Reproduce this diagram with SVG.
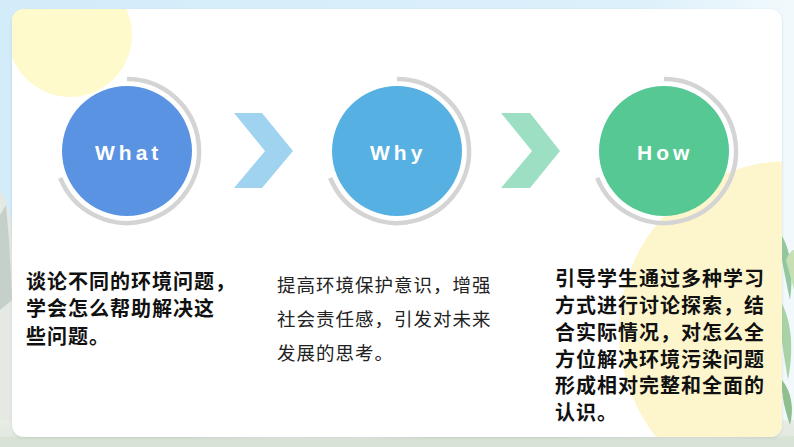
<svg xmlns="http://www.w3.org/2000/svg" width="794" height="447" viewBox="0 0 794 447">
  <defs>
    <style>
      .lbl { font-family: "Liberation Sans", Arial, sans-serif; font-weight: 700; font-size: 21px; fill: #ffffff; letter-spacing: 4px; }
      .bold { font-family: "Noto Sans CJK SC", "Noto Sans", sans-serif; font-weight: 700; font-size: 20px; fill: #111111; letter-spacing: 1px; }
      .reg { font-family: "Noto Sans CJK SC", "Noto Sans", sans-serif; font-weight: 400; font-size: 18.5px; fill: #222222; letter-spacing: 1px; }
      .ring { fill: none; stroke: #d4d4d4; stroke-width: 4.5; }
    </style>
    <linearGradient id="bgTop" x1="0" y1="0" x2="1" y2="0">
      <stop offset="0" stop-color="#d3ecfa"/>
      <stop offset="0.8" stop-color="#dcf0fb"/>
      <stop offset="1" stop-color="#f2f9fd"/>
    </linearGradient>
    <linearGradient id="ground" x1="0" y1="0" x2="0" y2="1">
      <stop offset="0" stop-color="#e8ede6"/>
      <stop offset="1" stop-color="#dfe7dc"/>
    </linearGradient>
    <clipPath id="cardClip">
      <rect x="12" y="9" width="770" height="428" rx="12"/>
    </clipPath>
    <filter id="sh" x="-5%" y="-5%" width="110%" height="110%">
      <feDropShadow dx="0" dy="1" stdDeviation="1.5" flood-color="#9aa9b0" flood-opacity="0.35"/>
    </filter>
  </defs>

  <!-- background -->
  <rect x="0" y="0" width="794" height="447" fill="url(#bgTop)"/>
  <path d="M0 190 C8 200 14 230 18 260 L40 447 L0 447 Z" fill="#e4e9e3"/>
  <path d="M0 215 L6 205 L9 240 L12 300 L0 310 Z" fill="#b9c4c1" opacity="0.7"/>
  <rect x="0" y="420" width="794" height="27" fill="url(#ground)"/>
  <path d="M0 437 C120 430 260 444 400 438 C540 432 660 444 794 436 L794 447 L0 447 Z" fill="#d9e3d5"/>
  <path d="M778 230 C790 245 794 270 790 300 C786 280 780 255 778 230 Z" fill="#93c79f"/>
  <path d="M780 300 C792 320 794 350 788 380 C784 355 779 330 780 300 Z" fill="#a9d3a6"/>
  <path d="M782 380 C792 392 794 410 790 425 C785 410 781 395 782 380 Z" fill="#8fbf8e"/>
  <path d="M786 260 C790 250 794 250 794 250 L794 290 Z" fill="#c6e0b4"/>

  <!-- card -->
  <rect x="12" y="9" width="770" height="428" rx="12" fill="#ffffff" filter="url(#sh)"/>
  <g clip-path="url(#cardClip)">
    <ellipse cx="70" cy="35" rx="62" ry="62" fill="#fffacc"/>
    <circle cx="789" cy="331" r="170" fill="#fdf6cc"/>
  </g>

  <!-- connectors -->
  <g id="connectors">
    <polygon points="234,113 262,113 293,151 262,188 234,188 265,151" fill="#9fd3f0"/>
    <polygon points="501,113 530,113 560,151 530,188 501,188 532,151" fill="#9ddfc3"/>
  </g>

  <!-- nodes -->
  <g id="node-what">
    <path class="ring" d="M127 79 A72 72 0 1 1 60.2 177.8"/>
    <circle cx="127" cy="151" r="65" fill="#5b93e3"/>
    <text class="lbl" x="95" y="160">What</text>
    <text class="bold">
      <tspan x="26" y="288.5">谈论不同的环境问题，</tspan>
      <tspan x="26" y="316">学会怎么帮助解决这</tspan>
      <tspan x="26" y="343.5">些问题。</tspan>
    </text>
  </g>

  <g id="node-why">
    <path class="ring" d="M397 79 A72 72 0 1 1 330.2 177.8"/>
    <circle cx="397" cy="151" r="65" fill="#56b1e2"/>
    <text class="lbl" x="370" y="160">Why</text>
    <text class="reg">
      <tspan x="277" y="292">提高环境保护意识，增强</tspan>
      <tspan x="277" y="326">社会责任感，引发对未来</tspan>
      <tspan x="277" y="360">发展的思考。</tspan>
    </text>
  </g>

  <g id="node-how">
    <path class="ring" d="M664 79 A72 72 0 1 1 597.2 177.8"/>
    <circle cx="664" cy="151" r="65" fill="#55c894"/>
    <text class="lbl" x="637" y="160">How</text>
    <text class="bold">
      <tspan x="555" y="286">引导学生通过多种学习</tspan>
      <tspan x="555" y="313">方式进行讨论探索，结</tspan>
      <tspan x="555" y="340">合实际情况，对怎么全</tspan>
      <tspan x="555" y="366.5">方位解决环境污染问题</tspan>
      <tspan x="555" y="393">形成相对完整和全面的</tspan>
      <tspan x="555" y="419.5">认识。</tspan>
    </text>
  </g>
</svg>
